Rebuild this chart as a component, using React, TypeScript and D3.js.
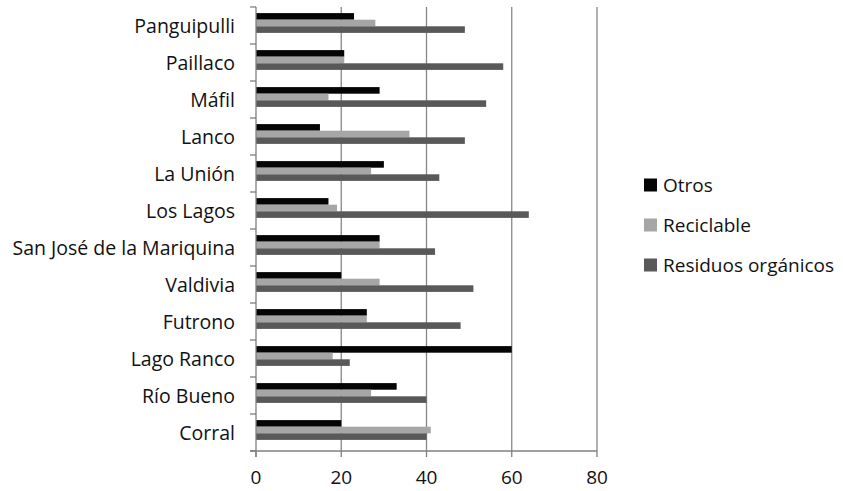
import { useEffect, useRef } from "react";
import * as d3 from "d3";

const categories = [
  "Panguipulli",
  "Paillaco",
  "Máfil",
  "Lanco",
  "La Unión",
  "Los Lagos",
  "San José de la Mariquina",
  "Valdivia",
  "Futrono",
  "Lago Ranco",
  "Río Bueno",
  "Corral",
];

const seriesNames = ["Otros", "Reciclable", "Residuos orgánicos"];
const seriesColors = ["#050505", "#a6a6a6", "#595959"];

const otros = [23, 20.7, 29, 15, 30, 17, 29, 20, 26, 60, 33, 20];
const reciclable = [28, 20.7, 17, 36, 27, 19, 29, 29, 26, 18, 27, 41];
const organicos = [49, 58, 54, 49, 43, 64, 42, 51, 48, 22, 40, 40];

const xTicks = [0, 20, 40, 60, 80];

const W = 843;
const H = 491;
const FONT = "'Open Sans', 'Noto Sans', sans-serif";

export default function App() {
  const svgRef = useRef<SVGSVGElement | null>(null);

  useEffect(() => {
    document.body.style.margin = "0";
    if (!svgRef.current) return;
    const svg = d3.select(svgRef.current);
    svg.selectAll("*").remove();

    const left = 256;
    const right = 597;
    const top = 7;
    const bottom = 451;

    const x = d3.scaleLinear().domain([0, 80]).range([left, right]);
    const y = d3.scaleBand<string>().domain(categories).range([top, bottom]);
    const groupH = 19.8;
    const inner = d3.scaleBand<number>().domain([0, 1, 2]).range([0, groupH]);
    const values = [otros, reciclable, organicos];

    // gridlines
    svg
      .append("g")
      .selectAll("line")
      .data(xTicks.slice(1))
      .join("line")
      .attr("x1", (d) => x(d))
      .attr("x2", (d) => x(d))
      .attr("y1", top)
      .attr("y2", bottom)
      .attr("stroke", "#878787")
      .attr("stroke-width", 1.3);

    // bars
    const groups = svg
      .append("g")
      .selectAll("g")
      .data(categories)
      .join("g")
      .attr("transform", (c) => `translate(0,${(y(c) ?? 0) + (y.bandwidth() - groupH) / 2 - 2.5})`);

    groups
      .selectAll("rect")
      .data((_c, i) => values.map((v, s) => ({ s, v: v[i] })))
      .join("rect")
      .attr("x", x(0))
      .attr("y", (d) => inner(d.s) ?? 0)
      .attr("width", (d) => x(d.v) - x(0))
      .attr("height", inner.bandwidth())
      .attr("fill", (d) => seriesColors[d.s]);

    // left axis line + ticks
    const axisColor = "#7f7f7f";
    svg
      .append("line")
      .attr("x1", x(0))
      .attr("x2", x(0))
      .attr("y1", top)
      .attr("y2", bottom + 6)
      .attr("stroke", axisColor)
      .attr("stroke-width", 1.3);
    const yTickPos = categories.map((c) => y(c) ?? 0).concat([bottom]);
    svg
      .append("g")
      .selectAll("line")
      .data(yTickPos)
      .join("line")
      .attr("x1", x(0) - 6)
      .attr("x2", x(0))
      .attr("y1", (d) => d)
      .attr("y2", (d) => d)
      .attr("stroke", axisColor)
      .attr("stroke-width", 1.3);

    // bottom axis
    svg
      .append("line")
      .attr("x1", x(0) - 6)
      .attr("x2", right)
      .attr("y1", bottom)
      .attr("y2", bottom)
      .attr("stroke", axisColor)
      .attr("stroke-width", 1.3);
    svg
      .append("g")
      .selectAll("line")
      .data(xTicks)
      .join("line")
      .attr("x1", (d) => x(d))
      .attr("x2", (d) => x(d))
      .attr("y1", bottom)
      .attr("y2", bottom + 6)
      .attr("stroke", axisColor)
      .attr("stroke-width", 1.3);

    svg
      .append("g")
      .selectAll("text")
      .data(xTicks)
      .join("text")
      .attr("x", (d) => x(d))
      .attr("y", 484)
      .attr("text-anchor", "middle")
      .attr("font-family", FONT)
      .attr("font-size", 19)
      .attr("fill", "#111")
      .text((d) => d);

    // category labels
    svg
      .append("g")
      .selectAll("text")
      .data(categories)
      .join("text")
      .attr("x", 235)
      .attr("y", (c) => (y(c) ?? 0) + y.bandwidth() / 2)
      .attr("dy", "0.36em")
      .attr("text-anchor", "end")
      .attr("font-family", FONT)
      .attr("font-size", 19.5)
      .attr("fill", "#111")
      .text((c) => c);

    // legend
    const legend = svg
      .append("g")
      .selectAll("g")
      .data(seriesNames)
      .join("g")
      .attr("transform", (_d, i) => `translate(644,${185 + i * 40})`);
    legend
      .append("rect")
      .attr("x", 0)
      .attr("y", -6.5)
      .attr("width", 13)
      .attr("height", 13)
      .attr("fill", (_d, i) => seriesColors[i]);
    legend
      .append("text")
      .attr("x", 19)
      .attr("y", 0)
      .attr("dy", "0.36em")
      .attr("font-family", FONT)
      .attr("font-size", 19)
      .attr("fill", "#111")
      .text((d) => d);
  }, []);

  return <svg ref={svgRef} width={W} height={H} style={{ display: "block", background: "#fff" }} />;
}
